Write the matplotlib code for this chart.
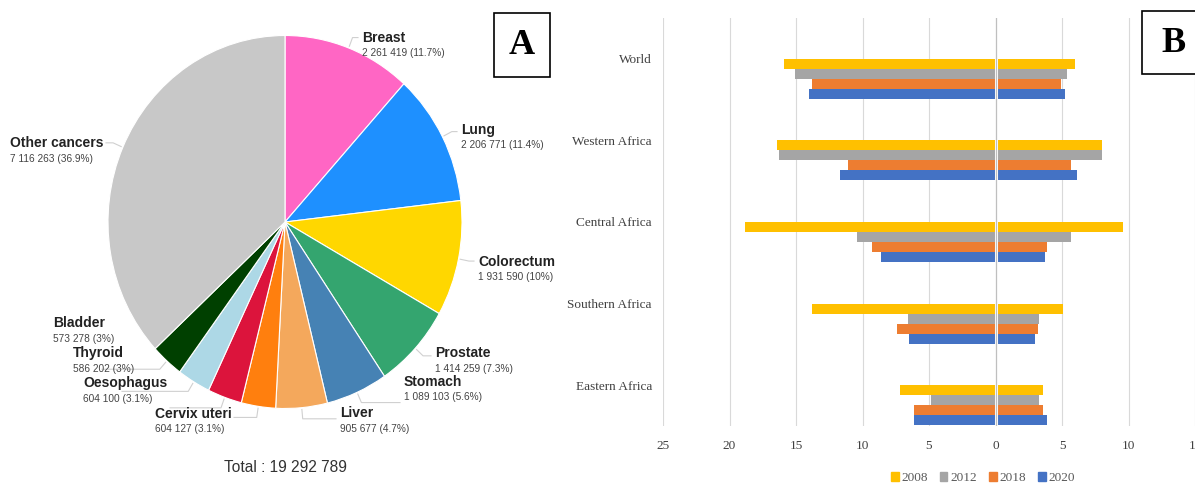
import math
import matplotlib
matplotlib.use("Agg")
import matplotlib.pyplot as plt
from matplotlib.patches import Rectangle, Patch

plt.rcParams['font.family'] = ['Liberation Sans', 'DejaVu Sans']

# ----- Panel A data -----
SITES = ["Breast", "Lung", "Colorectum", "Prostate", "Stomach", "Liver",
         "Cervix uteri", "Oesophagus", "Thyroid", "Bladder", "Other cancers"]
CASES = [2261419, 2206771, 1931590, 1414259, 1089103, 905677,
         604127, 604100, 586202, 573278, 7116263]
PIE_COLORS = ["#ff66c4", "#1e90ff", "#ffd700", "#34a56f", "#4682b4", "#f4a85c",
              "#ff7f0e", "#dc143c", "#add8e6", "#004000", "#c8c8c8"]

# ----- Panel B data -----
REGIONS = ["World", "Western Africa", "Central Africa", "Southern Africa", "Eastern Africa"]
YEARS = ["2008", "2012", "2018", "2020"]
LEFT_VALS = {
    "2008": [15.9, 16.4, 18.8, 13.8, 7.2],
    "2012": [15.1, 16.3, 10.4, 6.6, 4.85],
    "2018": [13.8, 11.1, 9.3, 7.4, 6.1],
    "2020": [14.0, 11.7, 8.6, 6.5, 6.1],
}
RIGHT_VALS = {
    "2008": [6.0, 8.0, 9.55, 5.05, 3.6],
    "2012": [5.35, 8.0, 5.65, 3.3, 3.3],
    "2018": [4.9, 5.65, 3.9, 3.2, 3.6],
    "2020": [5.2, 6.1, 3.7, 3.0, 3.9],
}
YEAR_COLORS = ["#ffc000", "#a5a5a5", "#ed7d31", "#4472c4"]
XTICKS = [-25, -20, -15, -10, -5, 0, 5, 10, 15]

W, H = 1195, 484


def fx(x):
    return x / W


def fy(y):
    return 1 - y / H


fig = plt.figure(figsize=(W / 100, H / 100), dpi=100)

# ───── Panel A: pie ─────
CX, CY, RX, RY = 285, 222, 177, 186.5
ax_pie = fig.add_axes([fx(CX - RX), fy(CY + RY), 2 * RX / W, 2 * RY / H])
wedges, _ = ax_pie.pie(CASES, colors=PIE_COLORS, startangle=90, counterclock=False,
                       radius=1, wedgeprops=dict(edgecolor="white", linewidth=0.8))
ax_pie.set_aspect("auto")
ax_pie.set_xlim(-1, 1)
ax_pie.set_ylim(-1, 1)
ax_pie.axis("off")

total = sum(CASES)

# label anchor (px), horizontal alignment, leader line end x (px)
label_pos = [
    (362, 38, "left", 358),
    (461, 130, "left", 457),
    (478, 262, "left", 474),
    (435, 353, "left", 431),
    (404, 382, "left", 400),
    (340, 413, "left", 336),
    (155, 414, "left", 234),
    (83, 383, "left", 170),
    (73, 353, "left", 122),
    (53, 323, "left", 102),
    (10, 143, "left", 106),
]


def to_pie(x, y):
    return (x - CX) / RX, (CY - y) / RY


for name, val, w, (lx, ly, ha, lend) in zip(SITES, CASES, wedges, label_pos):
    pct = f"{100 * val / total:.1f}".rstrip("0").rstrip(".")
    num = f"{val:,}".replace(",", " ")
    fig.text(fx(lx), fy(ly), name, fontsize=10, fontweight="bold", color="#222222",
             ha=ha, va="center")
    fig.text(fx(lx), fy(ly + 15.5), f"{num} ({pct}%)", fontsize=7.3, color="#444444",
             ha=ha, va="center")
    # leader line
    ang = math.radians((w.theta1 + w.theta2) / 2)
    sx, sy = 1.01 * math.cos(ang), 1.01 * math.sin(ang)
    ex, ey = 1.06 * math.cos(ang), 1.06 * math.sin(ang)
    tx, _ = to_pie(lend, ly)
    ax_pie.plot([sx, ex, tx], [sy, ey, ey], color="#d0d0d0", lw=0.8, clip_on=False)

fig.text(fx(285), fy(468), f"Total : {total:,}".replace(",", " "), fontsize=11.2,
         color="#333333", ha="center", va="center")

# box A
fig.add_artist(Rectangle((fx(494), fy(77)), 56 / W, 64 / H, transform=fig.transFigure,
                         facecolor="white", edgecolor="black", lw=1.2))
fig.text(fx(522), fy(46), "A", fontsize=26, fontweight="bold", family="Liberation Serif",
         ha="center", va="center")

# ───── Panel B: bars ─────
AX_L, AX_R, AX_T, AX_B = 663, 1195, 18, 426
ax = fig.add_axes([fx(AX_L), fy(AX_B), (AX_R - AX_L) / W, (AX_B - AX_T) / H])
band_px = (AX_B - AX_T) / len(REGIONS)
bh = 10 / band_px
for k, (yr, col) in enumerate(zip(YEARS, YEAR_COLORS)):
    ys = [i + (k + 0.5) * bh for i in range(len(REGIONS))]
    ax.barh(ys, [-v for v in LEFT_VALS[yr]], height=bh, color=col, zorder=2)
    ax.barh(ys, RIGHT_VALS[yr], height=bh, color=col, zorder=2)

ax.set_xlim(-25, 15)
ax.set_ylim(len(REGIONS) - 0.5, -0.5)
for t in XTICKS:
    if t != 0:
        ax.axvline(t, color="#d9d9d9", lw=0.8, zorder=1)
ax.axvline(0, color="white", lw=2.2, zorder=3)
ax.axvline(0, color="#bfbfbf", lw=0.9, zorder=4)
for s in ax.spines.values():
    s.set_visible(False)
ax.set_xticks(XTICKS)
ax.set_xticklabels([str(abs(t)) for t in XTICKS], family="Liberation Serif",
                   fontsize=9.5, color="#404040")
ax.set_yticks(range(len(REGIONS)))
ax.set_yticklabels(REGIONS, family="Liberation Serif", fontsize=9.5, color="#404040")
ax.tick_params(axis="both", length=0)
ax.tick_params(axis="y", pad=8)
ax.tick_params(axis="x", pad=10)

handles = [Patch(color=c) for c in YEAR_COLORS]
fig.legend(handles, YEARS, loc="center", bbox_to_anchor=(fx(983), fy(478)), ncol=4,
           frameon=False, prop=dict(family="Liberation Serif", size=9.5),
           labelcolor="#595959", handlelength=0.6, handleheight=0.6,
           handletextpad=0.25, columnspacing=0.85, borderpad=0)

# box B
fig.add_artist(Rectangle((fx(1142), fy(74)), 70 / W, 63 / H, transform=fig.transFigure,
                         facecolor="white", edgecolor="black", lw=1.2))
fig.text(fx(1174), fy(44), "B", fontsize=26, fontweight="bold", family="Liberation Serif",
         ha="center", va="center")

fig.savefig("out.png", dpi=100, facecolor="white")
